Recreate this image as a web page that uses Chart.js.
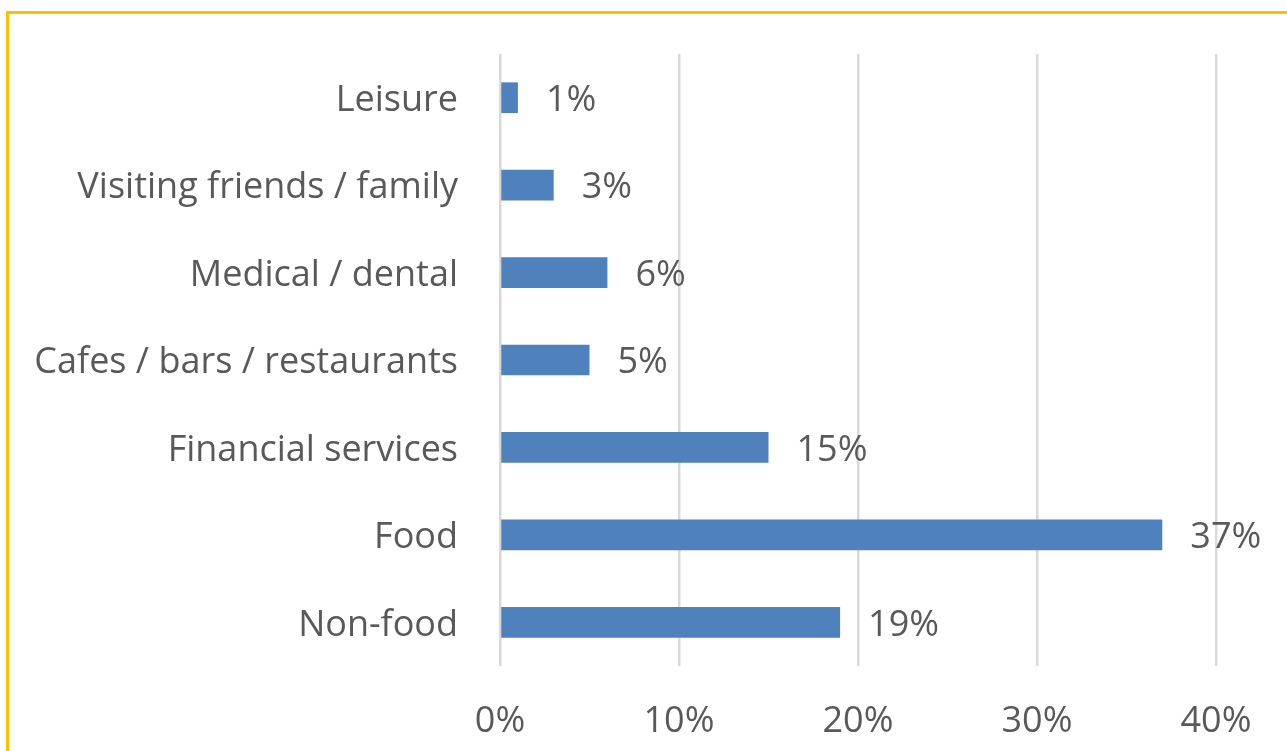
<!DOCTYPE html>
<html>
<head>
<meta charset="utf-8">
<title>Purpose of visit</title>
<script src="https://cdn.jsdelivr.net/npm/chart.js@4/dist/chart.umd.min.js"></script>
<style>
  html, body { margin: 0; padding: 0; background: #fff; overflow: hidden; }
  #wrap { position: relative; width: 1287px; height: 751px; }
  #frame {
    position: absolute; left: 6px; top: 11px; right: -10px; bottom: -10px;
    border-top: 3px solid #ffc000; border-left: 3px solid #ffc000;
    pointer-events: none;
  }
</style>
</head>
<body>
<div id="wrap">
  <canvas id="visitChart"></canvas>
  <div id="frame"></div>
</div>
<script>
// purposes of visit, top to bottom
const categories = [
  'Leisure',
  'Visiting friends / family',
  'Medical / dental',
  'Cafes / bars / restaurants',
  'Financial services',
  'Food',
  'Non-food'
];
const shares = [1, 3, 6, 5, 15, 37, 19];
const xTicks = [0, 10, 20, 30, 40];

const FONT = '"Open Sans", Lato, sans-serif';
const TEXT = '#595959';
const SIZE = 36;

// writes "n%" just past the end of each bar
const barLabels = {
  id: 'barLabels',
  afterDatasetsDraw(chart) {
    const ctx = chart.ctx;
    const meta = chart.getDatasetMeta(0);
    ctx.save();
    ctx.font = SIZE + 'px ' + FONT;
    ctx.fillStyle = TEXT;
    ctx.textAlign = 'left';
    ctx.textBaseline = 'middle';
    meta.data.forEach((bar, i) => {
      ctx.fillText(shares[i] + '%', bar.x + 28, bar.y + 3);
    });
    ctx.restore();
  }
};

const ctx = document.getElementById('visitChart');
new Chart(ctx, {
  type: 'bar',
  data: {
    labels: categories,
    datasets: [{
      data: shares,
      backgroundColor: '#4f81bd',
      borderWidth: 0,
      barPercentage: 0.9,
      categoryPercentage: 0.39
    }]
  },
  options: {
    indexAxis: 'y',
    responsive: true,
    maintainAspectRatio: false,
    animation: false,
    layout: { padding: { top: 54, right: 71, bottom: 0, left: 0 } },
    plugins: {
      legend: { display: false },
      tooltip: { enabled: false }
    },
    scales: {
      x: {
        min: 0,
        max: 40,
        afterBuildTicks(scale) {
          scale.ticks = xTicks.map(v => ({ value: v }));
        },
        afterFit(scale) { scale.height = 85; },
        grid: { color: '#d9d9d9', lineWidth: 2.5, drawTicks: false },
        border: { display: false },
        ticks: {
          padding: 34,
          color: TEXT,
          font: { family: FONT, size: SIZE },
          callback: v => v + '%'
        }
      },
      y: {
        afterFit(scale) {
          scale.width = 500;
          // the category offset already leaves room for the first/last label
          scale.paddingTop = 0;
          scale.paddingBottom = 0;
        },
        grid: { display: false, drawTicks: false },
        border: { display: false },
        ticks: {
          padding: 42,
          labelOffset: 3,
          color: TEXT,
          font: { family: FONT, size: SIZE }
        }
      }
    }
  },
  plugins: [barLabels]
});
</script>
</body>
</html>
